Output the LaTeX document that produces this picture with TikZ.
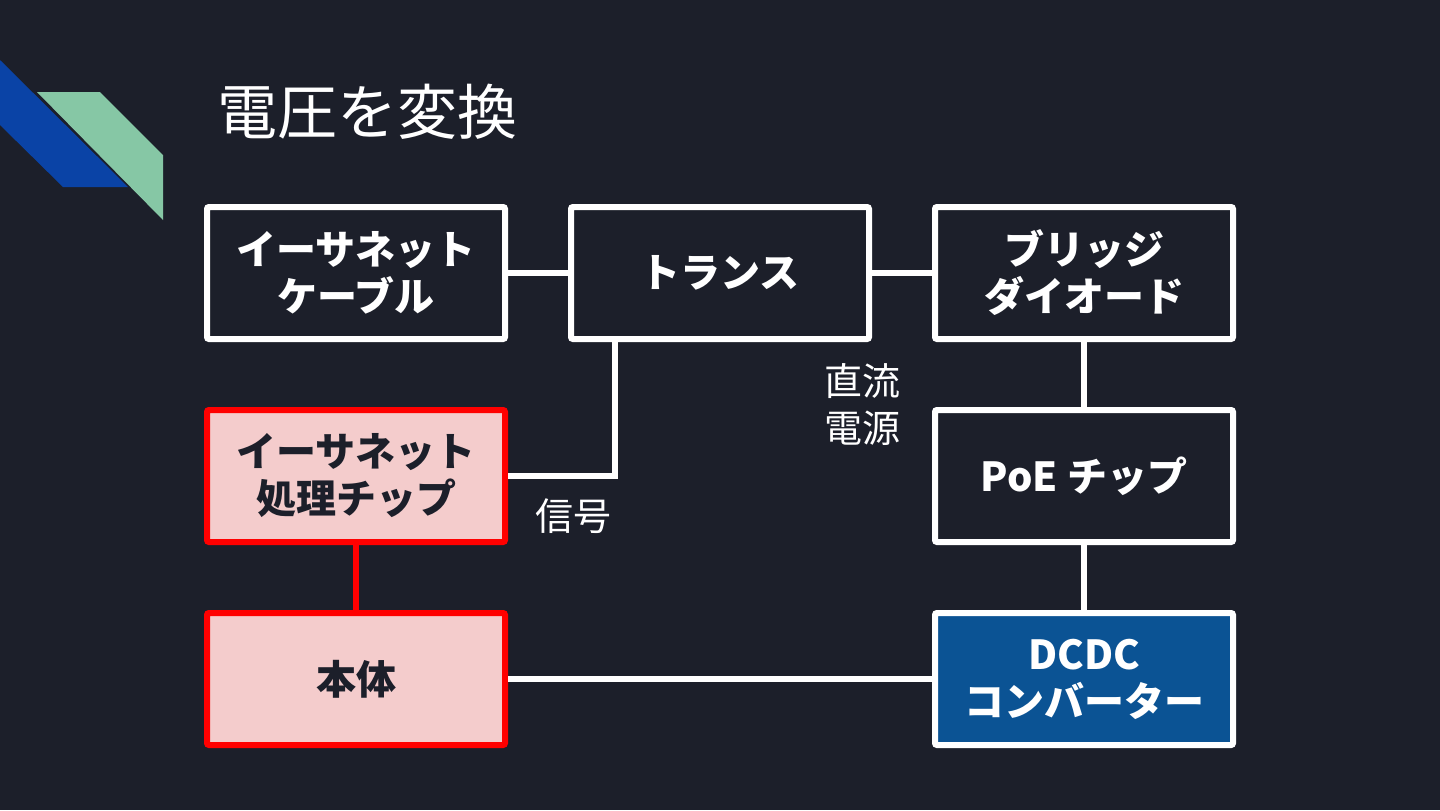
\documentclass[tikz,border=0pt]{standalone}
\usepackage{fontspec}
\setmainfont{Noto Sans CJK JP}
\usetikzlibrary{positioning}
\definecolor{slide-bg}{HTML}{1C1F2A}
\definecolor{pink-fill}{HTML}{F4CCCC}
\definecolor{dcdc-blue}{HTML}{0B5394}
\definecolor{deco-blue}{HTML}{0A43A6}
\definecolor{deco-green}{HTML}{86C7A5}
\tikzset{
    block/.style = {draw=white, fill=slide-bg, line width=3pt, rectangle, rounded corners=1pt, minimum width=149pt, minimum height=66pt, inner sep=0pt, align=center, text=white, font={\fontsize{20pt}{23.5pt}\selectfont\bfseries}},
    core-block/.style = {block, draw=red, fill=pink-fill, text=slide-bg},
    power-block/.style = {block, fill=dcdc-blue},
    wire/.style = {draw=white, line width=3pt},
    core-wire/.style = {draw=red, line width=3pt},
    wire-label/.style = {text=white, align=center, font={\fontsize{19pt}{23.5pt}\selectfont}},
}

\begin{document}
\begin{tikzpicture}[x=0.5pt, y=-0.5pt, node distance=32.5pt and 30pt]
\fill[slide-bg] (0,0) rectangle (1440,810);
% corner decoration
\fill[deco-blue] (0,60) -- (128,187) -- (63,187) -- (0,125) -- cycle;
\fill[deco-green] (37,92) -- (100,92) -- (163,155) -- (163,220) -- cycle;
\node[anchor=west, text=white, font={\fontsize{30pt}{35pt}\selectfont}] (title) at (210,112) {電圧を変換};

\node[block] (cable) at (356,273) {イーサネット\\ケーブル};
\node[block, right=of cable] (trans) {トランス};
\node[block, right=of trans] (bridge) {ブリッジ\\ダイオード};
\node[block, below=of bridge] (poe) {PoE チップ};
\node[power-block, below=of poe] (dcdc) {DCDC\\コンバーター};
\node[core-block, below=of cable] (eth-chip) {イーサネット\\処理チップ};
\node[core-block, below=of eth-chip] (body) {本体};

\draw[wire] (cable) -- (trans);
\draw[wire] (trans) -- (bridge);
\draw[wire] (bridge) -- (poe);
\draw[wire] (poe) -- (dcdc);
\draw[wire] ([xshift=23.5pt]trans.south west) |- (eth-chip.east);
\draw[wire] (body) -- (dcdc);
\draw[core-wire] (eth-chip) -- (body);

\node[wire-label] (signal) at (573,516) {信号};
\node[wire-label] (dc-power) at (862,404) {直流\\電源};
\end{tikzpicture}
\end{document}
